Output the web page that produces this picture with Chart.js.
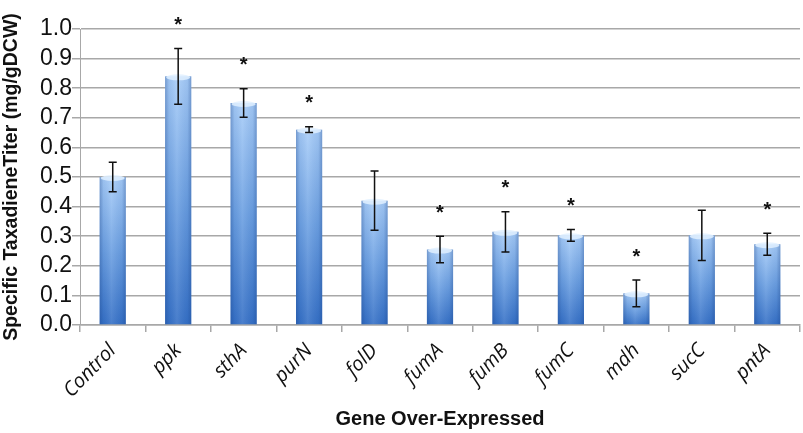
<!DOCTYPE html>
<html>
<head>
<meta charset="utf-8">
<script src="https://cdn.jsdelivr.net/npm/chart.js@4/dist/chart.umd.min.js"></script>
<style>
  html, body { margin: 0; padding: 0; background: #ffffff; }
  #wrap { width: 803px; height: 433px; position: relative; }
</style>
</head>
<body>
<div id="wrap"><canvas id="c" width="803" height="433"></canvas></div>
<script>
const categories = ['Control', 'ppk', 'sthA', 'purN', 'folD', 'fumA', 'fumB', 'fumC', 'mdh', 'sucC', 'pntA'];
const titers = [0.50, 0.84, 0.75, 0.66, 0.42, 0.255, 0.315, 0.303, 0.107, 0.303, 0.273];
const errors = [0.05, 0.094, 0.048, 0.01, 0.10, 0.045, 0.068, 0.02, 0.045, 0.085, 0.037];
const significant = [false, true, true, true, false, true, true, true, true, false, true];
const yTickValues = [0.0, 0.1, 0.2, 0.3, 0.4, 0.5, 0.6, 0.7, 0.8, 0.9, 1.0];

const barShade = {
  id: 'barShade',
  afterDatasetDraw(chart, args) {
    const meta = chart.getDatasetMeta(0);
    const c = chart.ctx;
    c.save();
    meta.data.forEach((bar) => {
      const w = bar.width;
      const x0 = bar.x - w / 2;
      const top = bar.y, bottom = bar.base;
      const g = c.createLinearGradient(x0, 0, x0 + w, 0);
      g.addColorStop(0, 'rgba(20,60,130,0.35)');
      g.addColorStop(0.15, 'rgba(20,60,130,0.08)');
      g.addColorStop(0.45, 'rgba(255,255,255,0.10)');
      g.addColorStop(0.85, 'rgba(20,60,130,0.08)');
      g.addColorStop(1, 'rgba(20,60,130,0.35)');
      c.fillStyle = g;
      c.fillRect(x0, top, w, bottom - top);
      c.beginPath();
      c.ellipse(bar.x, top + 1, w / 2 - 1, 3, 0, 0, Math.PI * 2);
      c.fillStyle = 'rgba(225,240,255,0.85)';
      c.fill();
    });
    c.restore();
  }
};

const errorBars = {
  id: 'errorBars',
  afterDatasetsDraw(chart) {
    const meta = chart.getDatasetMeta(0);
    const y = chart.scales.y;
    const c = chart.ctx;
    c.save();
    c.strokeStyle = '#111111';
    c.lineWidth = 1.5;
    meta.data.forEach((bar, i) => {
      const v = titers[i], e = errors[i];
      const yt = y.getPixelForValue(v + e);
      const yb = y.getPixelForValue(v - e);
      c.beginPath();
      c.moveTo(bar.x, yt); c.lineTo(bar.x, yb);
      c.moveTo(bar.x - 4, yt); c.lineTo(bar.x + 4, yt);
      c.moveTo(bar.x - 4, yb); c.lineTo(bar.x + 4, yb);
      c.stroke();
      if (significant[i]) {
        c.fillStyle = '#111111';
        c.font = 'bold 20px "Liberation Sans", Arial, sans-serif';
        c.textAlign = 'center';
        c.textBaseline = 'top';
        c.fillText('*', bar.x, yt - 33);
      }
    });
    c.restore();
  }
};

new Chart(document.getElementById('c'), {
  type: 'bar',
  data: {
    labels: categories,
    datasets: [{
      data: titers,
      backgroundColor: (ctx) => {
        const chart = ctx.chart;
        if (!chart.chartArea || ctx.raw === undefined) return '#5b93dc';
        const y = chart.scales.y;
        const top = y.getPixelForValue(ctx.raw);
        const bottom = y.getPixelForValue(0);
        const g = chart.ctx.createLinearGradient(0, top, 0, bottom);
        g.addColorStop(0, '#a8cdf8');
        g.addColorStop(0.5, '#6ca0e2');
        g.addColorStop(1, '#3570c6');
        return g;
      },
      borderWidth: 0,
      barPercentage: 0.4,
      categoryPercentage: 1.0
    }]
  },
  options: {
    responsive: false,
    animation: false,
    events: [],
    layout: { padding: { top: 29, right: 3, left: 0, bottom: 0 } },
    plugins: { legend: { display: false }, tooltip: { enabled: false } },
    scales: {
      x: {
        grid: { display: true, drawOnChartArea: false, drawTicks: true, tickLength: 7, color: '#a8a8a8', lineWidth: 1.5 },
        border: { display: true, color: '#a8a8a8', width: 1.5 },
        ticks: {
          color: '#111111',
          font: { family: '"Open Sans", sans-serif', size: 20, style: 'italic' },
          minRotation: 46, maxRotation: 46, padding: 7, autoSkip: false
        },
        title: {
          display: true, text: 'Gene Over-Expressed', color: '#111111',
          font: { family: '"Liberation Sans", Arial, sans-serif', size: 20, weight: 'bold' },
          padding: { top: 0, bottom: 2 }
        },
        afterFit(scale) { scale.height = 108; }
      },
      y: {
        min: 0, max: 1.0,
        afterBuildTicks(scale) { scale.ticks = yTickValues.map(v => ({ value: v })); },
        grid: { color: '#a8a8a8', lineWidth: 1.5, tickLength: 8 },
        border: { display: true, color: '#a8a8a8', width: 1 },
        ticks: {
          color: '#111111', padding: 0, autoSkip: false,
          font: { family: '"Liberation Sans", Arial, sans-serif', size: 23 },
          callback: (v) => Number(v).toFixed(1)
        },
        title: {
          display: true, text: 'Specific TaxadieneTiter (mg/gDCW)', color: '#111111',
          font: { family: '"Liberation Sans", Arial, sans-serif', size: 19.5, weight: 'bold' },
          padding: { top: 0, bottom: 0 }
        },
        afterFit(scale) { scale.width = 80; }
      }
    }
  },
  plugins: [barShade, errorBars]
});
</script>
</body>
</html>
